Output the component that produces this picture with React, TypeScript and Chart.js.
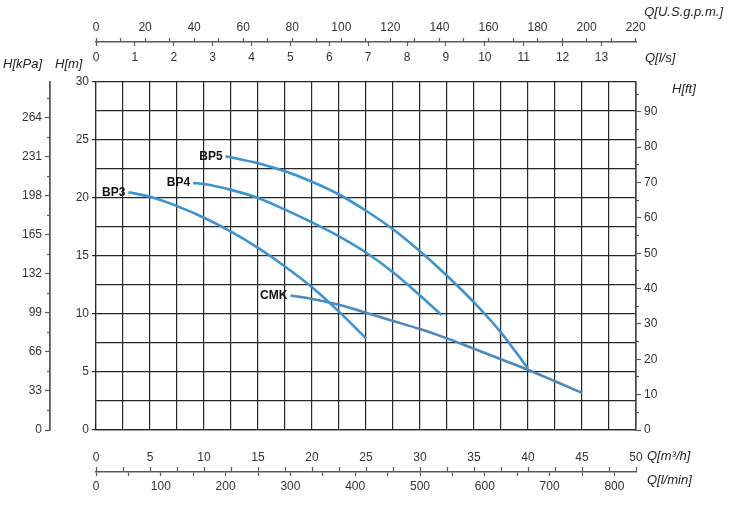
import React, { useEffect, useRef } from 'react';
import { Chart, registerables } from 'chart.js';

Chart.register(...registerables);

// ---- Pump curves: flow Q [m³/h] and head H [m] ----
const bp3Flow = [3, 5, 7.5, 10, 12.5, 15, 17.5, 20, 22.5, 25];
const bp3Head = [20.5, 20.1, 19.3, 18.3, 17.1, 15.7, 14.1, 12.3, 10.2, 7.9];
const bp4Flow = [9, 10, 12.5, 15, 17.5, 20, 22.5, 25, 27.5, 30, 32];
const bp4Head = [21.3, 21.2, 20.7, 20.0, 19.0, 17.9, 16.7, 15.3, 13.6, 11.6, 9.9];
const bp5Flow = [12, 15, 17.5, 20, 22.5, 25, 27.5, 30, 32.5, 35, 37.5, 40];
const bp5Head = [23.6, 23.0, 22.3, 21.4, 20.3, 18.9, 17.3, 15.4, 13.3, 11.0, 8.4, 5.3];
const cmkFlow = [18, 20, 22.5, 25, 27.5, 30, 32.5, 35, 37.5, 40, 42.5, 45];
const cmkHead = [11.6, 11.3, 10.8, 10.1, 9.4, 8.7, 7.9, 7.0, 6.1, 5.2, 4.2, 3.2];

const seriesNames = ['BP3', 'BP4', 'BP5', 'CMK'];

// ---- Tick values ----
const m3hGrid = [0, 2.5, 5, 7.5, 10, 12.5, 15, 17.5, 20, 22.5, 25, 27.5, 30, 32.5, 35, 37.5, 40, 42.5, 45, 47.5, 50];
const mGrid = [0, 2.5, 5, 7.5, 10, 12.5, 15, 17.5, 20, 22.5, 25, 27.5, 30];
const kpaTicks = [0, 33, 66, 99, 132, 165, 198, 231, 264];
const kpaMinorTicks = [16.5, 49.5, 82.5, 115.5, 148.5, 181.5, 214.5, 247.5, 280.5];
const ftTicks = [0, 10, 20, 30, 40, 50, 60, 70, 80, 90];
const ftMinorTicks = [5, 15, 25, 35, 45, 55, 65, 75, 85, 95];
const lsTicks = [0, 1, 2, 3, 4, 5, 6, 7, 8, 9, 10, 11, 12, 13];
const gpmTicks = [0, 10, 20, 30, 40, 50, 60, 70, 80, 90, 100, 110, 120, 130, 140, 150, 160, 170, 180, 190, 200, 210, 220];
const lminTicks = [0, 50, 100, 150, 200, 250, 300, 350, 400, 450, 500, 550, 600, 650, 700, 750, 800];

// ---- Unit conversions ----
const Q_MAX = 50; // m³/h
const H_MAX = 30; // m
const M_TO_KPA = 9.81;
const M_TO_FT = 1 / 0.3048;
const M3H_TO_LS = 1 / 3.6;
const M3H_TO_LMIN = 1000 / 60;
const M3H_TO_GPM = 1000 / 60 / 3.78541;

const FONT_FAMILY = "'Liberation Sans', Arial, Helvetica, sans-serif";

const toPoints = (qs: number[], hs: number[]) => qs.map((q, i) => ({ x: q, y: hs[i] }));

export default function App() {
  const ref = useRef<HTMLCanvasElement>(null);

  useEffect(() => {
    if (!ref.current) return;
    const font = { family: FONT_FAMILY, size: 12 };
    const labelColor = '#333';
    const axisColor = '#5a5a5a';
    const gridColor = '#262626';

    const setTicks = (vals: number[]) => (axis: any) => {
      axis.ticks = vals.map((v) => ({ value: v }));
    };
    const fitW = (w: number) => (s: any) => {
      s.width = w;
    };
    const fitH = (h: number) => (s: any) => {
      s.height = h;
    };
    const isMult = (v: number, m: number) => Math.abs(v / m - Math.round(v / m)) < 1e-6;

    const bpColor = '#3a93d2';
    const cmkColor = '#4a88bd';

    const textPlugin = {
      id: 'texts',
      afterDraw(chart: any) {
        const ctx = chart.ctx;
        ctx.save();
        ctx.fillStyle = '#222';
        ctx.textBaseline = 'middle';
        ctx.font = `italic 13px ${FONT_FAMILY}`;
        ctx.textAlign = 'right';
        ctx.fillText('Q[U.S.g.p.m.]', 723, 12);
        ctx.textAlign = 'left';
        ctx.fillText('Q[l/s]', 645, 58);
        ctx.fillText('H[kPa]', 3, 64);
        ctx.fillText('H[m]', 55, 64);
        ctx.fillText('H[ft]', 672, 89);
        ctx.fillText('Q[m³/h]', 647, 456);
        ctx.fillText('Q[l/min]', 647, 480);

        ctx.font = `bold 12px ${FONT_FAMILY}`;
        ctx.fillStyle = '#111';
        ctx.textAlign = 'right';
        chart.data.datasets.forEach((ds: any, i: number) => {
          const pt = chart.getDatasetMeta(i).data[0];
          if (pt) ctx.fillText(ds.label, pt.x - 3, pt.y);
        });
        ctx.restore();
      },
    };

    const mkDataset = (label: string, q: number[], h: number[], color: string) => ({
      label,
      data: toPoints(q, h),
      borderColor: color,
      backgroundColor: color,
      borderWidth: 2.6,
      pointRadius: 0,
      fill: false,
      cubicInterpolationMode: 'monotone' as const,
      xAxisID: 'x',
      yAxisID: 'y',
    });

    const chart = new Chart(ref.current, {
      type: 'line',
      data: {
        datasets: [
          mkDataset(seriesNames[0], bp3Flow, bp3Head, bpColor),
          mkDataset(seriesNames[1], bp4Flow, bp4Head, bpColor),
          mkDataset(seriesNames[2], bp5Flow, bp5Head, bpColor),
          mkDataset(seriesNames[3], cmkFlow, cmkHead, cmkColor),
        ],
      },
      options: {
        responsive: false,
        maintainAspectRatio: false,
        animation: false,
        events: [],
        layout: { padding: 0 },
        plugins: {
          legend: { display: false },
          tooltip: { enabled: false },
        },
        scales: {
          // ---------- bottom ----------
          x: {
            type: 'linear',
            position: 'bottom',
            weight: 0,
            min: 0,
            max: Q_MAX,
            afterBuildTicks: setTicks(m3hGrid),
            afterFit: fitH(42),
            grid: { color: gridColor, lineWidth: 1.2, drawTicks: false },
            border: { display: true, color: gridColor, width: 1.2 },
            ticks: {
              autoSkip: false,
              maxRotation: 0,
              padding: 20,
              font,
              color: labelColor,
              callback: (v: any) => (isMult(v, 5) ? String(v) : ''),
            },
          },
          xTickMarks: {
            type: 'linear',
            position: 'bottom',
            weight: 1,
            min: 0,
            max: Q_MAX,
            afterBuildTicks: setTicks(m3hGrid),
            afterFit: fitH(0),
            grid: { drawOnChartArea: false, drawTicks: true, tickLength: -5, tickColor: axisColor, tickWidth: 1.2 },
            border: { display: false },
            ticks: { display: false },
          },
          lmin: {
            type: 'linear',
            position: 'bottom',
            weight: 2,
            min: 0,
            max: Q_MAX * M3H_TO_LMIN,
            afterBuildTicks: setTicks(lminTicks),
            afterFit: fitH(34),
            grid: { drawOnChartArea: false, tickLength: 4, tickColor: axisColor, tickWidth: 1.2 },
            border: { display: true, color: axisColor, width: 1.5 },
            ticks: {
              autoSkip: false,
              maxRotation: 0,
              padding: 3,
              font,
              color: labelColor,
              callback: (v: any) => (isMult(v, 100) ? String(v) : ''),
            },
          },
          // ---------- top ----------
          ls: {
            type: 'linear',
            position: 'top',
            weight: 0,
            min: 0,
            max: Q_MAX * M3H_TO_LS,
            afterBuildTicks: setTicks(lsTicks),
            afterFit: fitH(40),
            grid: { drawOnChartArea: false, drawTicks: false },
            border: { display: false },
            ticks: {
              autoSkip: false,
              maxRotation: 0,
              padding: 17,
              font,
              color: labelColor,
              callback: (v: any) => String(v),
            },
          },
          lsTickMarks: {
            type: 'linear',
            position: 'top',
            weight: 1,
            min: 0,
            max: Q_MAX * M3H_TO_LS,
            afterBuildTicks: setTicks(lsTicks),
            afterFit: fitH(0),
            grid: { drawOnChartArea: false, drawTicks: true, tickLength: -4, tickColor: axisColor, tickWidth: 1.2 },
            border: { display: false },
            ticks: { display: false },
          },
          gpm: {
            type: 'linear',
            position: 'top',
            weight: 2,
            min: 0,
            max: Q_MAX * M3H_TO_GPM,
            afterBuildTicks: setTicks(gpmTicks),
            afterFit: fitH(42),
            grid: { drawOnChartArea: false, tickLength: 4, tickColor: axisColor, tickWidth: 1.2 },
            border: { display: true, color: axisColor, width: 1.5 },
            ticks: {
              autoSkip: false,
              maxRotation: 0,
              padding: 3,
              font,
              color: labelColor,
              callback: (v: any) => (isMult(v, 20) ? String(v) : ''),
            },
          },
          // ---------- left ----------
          y: {
            type: 'linear',
            position: 'left',
            weight: 0,
            min: 0,
            max: H_MAX,
            afterBuildTicks: setTicks(mGrid),
            afterFit: fitW(46),
            grid: {
              color: gridColor,
              lineWidth: 1.2,
              tickLength: 4,
              tickColor: (ctx: any) => (ctx.tick && isMult(ctx.tick.value, 5) ? gridColor : 'rgba(0,0,0,0)'),
            },
            border: { display: true, color: gridColor, width: 1.2 },
            ticks: {
              autoSkip: false,
              padding: 3,
              font,
              color: labelColor,
              callback: (v: any) => (isMult(v, 5) ? String(v) : ''),
            },
          },
          kpaMinor: {
            type: 'linear',
            position: 'left',
            weight: 1,
            min: 0,
            max: H_MAX * M_TO_KPA,
            afterBuildTicks: setTicks(kpaMinorTicks),
            afterFit: fitW(0),
            grid: { drawOnChartArea: false, tickLength: 3, tickColor: axisColor, tickWidth: 1.2 },
            border: { display: false },
            ticks: { display: false },
          },
          kpa: {
            type: 'linear',
            position: 'left',
            weight: 2,
            min: 0,
            max: H_MAX * M_TO_KPA,
            afterBuildTicks: setTicks(kpaTicks),
            afterFit: fitW(50),
            grid: { drawOnChartArea: false, tickLength: 5, tickColor: axisColor, tickWidth: 1.2 },
            border: { display: true, color: axisColor, width: 1.8 },
            ticks: {
              autoSkip: false,
              padding: 3,
              font,
              color: labelColor,
              callback: (v: any) => String(v),
            },
          },
          // ---------- right ----------
          ftMinor: {
            type: 'linear',
            position: 'right',
            weight: 0,
            min: 0,
            max: H_MAX * M_TO_FT,
            afterBuildTicks: setTicks(ftMinorTicks),
            afterFit: fitW(0),
            grid: { drawOnChartArea: false, tickLength: 3, tickColor: axisColor, tickWidth: 1.2 },
            border: { display: false },
            ticks: { display: false },
          },
          ft: {
            type: 'linear',
            position: 'right',
            weight: 1,
            min: 0,
            max: H_MAX * M_TO_FT,
            afterBuildTicks: setTicks(ftTicks),
            afterFit: fitW(94),
            grid: { drawOnChartArea: false, tickLength: 5, tickColor: axisColor, tickWidth: 1.2 },
            border: { display: true, color: '#444', width: 1.6 },
            ticks: {
              autoSkip: false,
              padding: 3,
              font,
              color: labelColor,
              callback: (v: any) => String(v),
            },
          },
        },
      } as any,
      plugins: [textPlugin],
    });

    return () => chart.destroy();
  }, []);

  return (
    <div style={{ position: 'absolute', left: 0, top: 0, width: 730, height: 506, background: '#fff' }}>
      <canvas ref={ref} width={730} height={506} style={{ display: 'block' }} />
    </div>
  );
}
